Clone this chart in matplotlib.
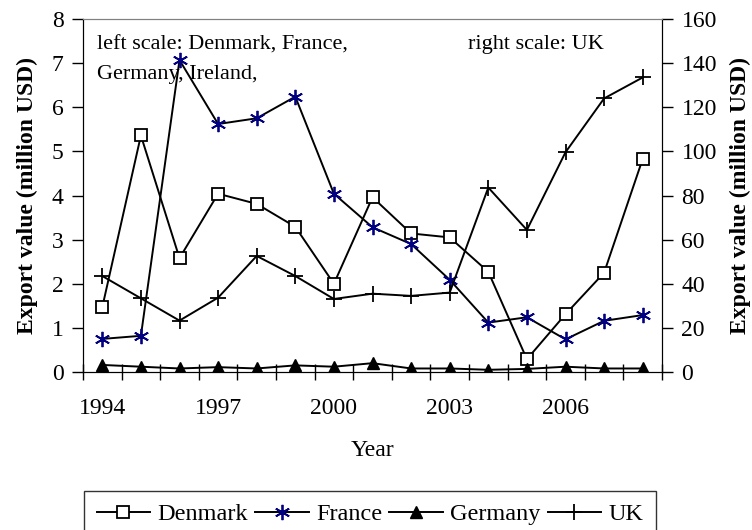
"""
Export values 1994-2008: Denmark, France, Germany on the left scale, UK on the right
"""

import numpy as np
import matplotlib.pyplot as plt

years = list(range(1994, 2009))
label_years = [1994, 1997, 2000, 2003, 2006]

denmark = [1.47, 5.36, 2.58, 4.04, 3.81, 3.29, 2.00, 3.96, 3.14, 3.05, 2.27, 0.29, 1.31, 2.25, 4.83]
france = [0.75, 0.82, 7.07, 5.62, 5.75, 6.24, 4.04, 3.28, 2.90, 2.09, 1.12, 1.24, 0.74, 1.16, 1.29]
germany = [0.16, 0.12, 0.08, 0.11, 0.08, 0.15, 0.12, 0.20, 0.08, 0.08, 0.05, 0.07, 0.12, 0.08, 0.08]
uk = [43.5, 33.4, 23.3, 33.7, 52.6, 43.5, 33.1, 35.5, 34.5, 36.0, 83.6, 64.4, 99.6, 124.0, 133.5]

plt.rcParams['font.family'] = ['Liberation Serif', 'DejaVu Serif']

x = np.arange(len(years))

fig = plt.figure(figsize=(7.52, 5.3), dpi=100)
ax = fig.add_axes([83 / 752, 158 / 530, 579 / 752, 353 / 530])
ax2 = ax.twinx()

# left scale
l1, = ax.plot(x, denmark, color='black', lw=1.4, marker='s', ms=8,
              mfc='white', mec='black', mew=1.3, label='Denmark')
l2, = ax.plot(x, france, color='black', lw=1.4, marker=(6, 2, 0), ms=11,
              mec='#000080', mew=1.3, label='France')
l3, = ax.plot(x, germany, color='black', lw=1.4, marker='^', ms=9,
              mfc='black', mec='black', label='Germany')
# right scale
l4, = ax2.plot(x, uk, color='black', lw=1.4, marker='+', ms=12,
               mew=1.3, label='UK')

ax.set_xlim(-0.5, len(years) - 0.5)
ax.set_ylim(0, 8)
ax2.set_ylim(0, 160)
ax.set_yticks(range(0, 9))
ax2.set_yticks(range(0, 161, 20))

# category axis: ticks between years, labels on selected years
ax.set_xticks(np.arange(-0.5, len(years), 1.0))
ax.set_xticklabels([])
ax.tick_params(axis='x', which='major', direction='inout', length=11, width=1)
ax.set_xticks([years.index(y) for y in label_years], minor=True)
ax.set_xticklabels([str(y) for y in label_years], minor=True)
ax.tick_params(axis='x', which='minor', length=0, pad=19, labelsize=17)

ax.tick_params(axis='y', direction='out', length=8, width=1, labelsize=17, pad=6)
ax2.tick_params(axis='y', direction='out', length=8, width=1, labelsize=17, pad=6)

for a in (ax, ax2):
    a.spines['top'].set_color('#808080')
    a.spines['left'].set_color('black')
    a.spines['right'].set_color('black')
    a.spines['bottom'].set_color('black')

ax.set_xlabel('Year', fontsize=17, labelpad=15)
ax.set_ylabel('Export value (million USD)', fontsize=17, fontweight='bold', labelpad=10)
ax2.set_ylabel('Export value (million USD)', fontsize=17, fontweight='bold', labelpad=9)

ax.text(0.025, 0.927, 'left scale: Denmark, France,', transform=ax.transAxes,
        fontsize=16, va='center', ha='left')
ax.text(0.025, 0.842, 'Germany, Ireland,', transform=ax.transAxes,
        fontsize=16, va='center', ha='left')
ax.text(0.665, 0.927, 'right scale: UK', transform=ax.transAxes,
        fontsize=16, va='center', ha='left')

leg = fig.legend(handles=[l1, l2, l3, l4], loc='upper center',
                 bbox_to_anchor=(370 / 752, 39 / 530), ncol=4, fontsize=17.5,
                 frameon=True, fancybox=False, edgecolor='black',
                 handlelength=2.2, handletextpad=0.3, columnspacing=0.3,
                 borderpad=0.5, borderaxespad=0)
leg.get_frame().set_linewidth(1.0)

plt.savefig('out.png', dpi=100)
